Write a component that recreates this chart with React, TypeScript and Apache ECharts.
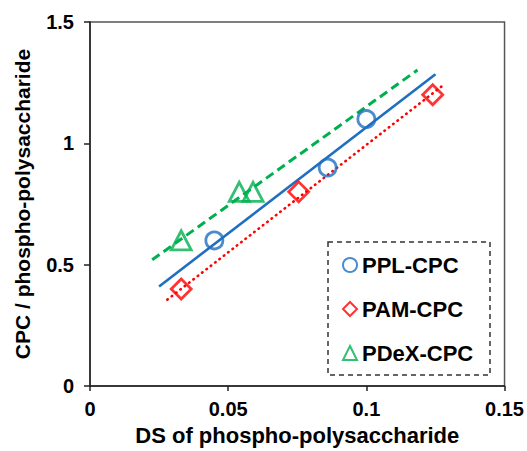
import React, { useEffect, useRef } from "react";
import * as echarts from "echarts";

const seriesNames = ["PPL-CPC", "PAM-CPC", "PDeX-CPC"];
const colors = ["#1F6EC0", "#FF0000", "#00B050"];
const symbols = ["circle", "diamond", "triangle"];

const pplPoints = [
  [0.045, 0.6],
  [0.086, 0.9],
  [0.1, 1.1],
];
const pamPoints = [
  [0.033, 0.4],
  [0.0755, 0.8],
  [0.124, 1.2],
];
const pdexPoints = [
  [0.033, 0.6],
  [0.054, 0.8],
  [0.059, 0.8],
];

const pplTrend = [
  [0.025, 0.41],
  [0.125, 1.285],
];
const pamTrend = [
  [0.028, 0.356],
  [0.1284, 1.245],
];
const pdexTrend = [
  [0.0225, 0.52],
  [0.1185, 1.302],
];

const xTicks = { min: 0, max: 0.15, interval: 0.05 };
const yTicks = { min: 0, max: 1.5, interval: 0.5 };

const FONT = "'Liberation Sans', Arial, sans-serif";

export default function App() {
  const ref = useRef<HTMLDivElement>(null);

  useEffect(() => {
    document.body.style.margin = "0";
    if (!ref.current) return;
    const chart = echarts.init(ref.current, null, { renderer: "svg" });

    const points = [pplPoints, pamPoints, pdexPoints];
    const trends = [pplTrend, pamTrend, pdexTrend];
    const lineDash: any[] = ["solid", [0.5, 5], [9, 5]];
    const symbolSizes: any[] = [17, 20, [20, 19]];

    const lineSeries = trends.map((t, i) => ({
      type: "line",
      name: seriesNames[i] + " trend",
      data: t,
      showSymbol: false,
      symbol: "none",
      silent: true,
      z: 2,
      lineStyle: {
        color: colors[i],
        width: i === 2 ? 3 : 2.6,
        type: lineDash[i],
        cap: i === 1 ? "round" : "butt",
      },
    }));

    const scatterSeries = points.map((p, i) => ({
      type: "scatter",
      name: seriesNames[i],
      data: p,
      symbol: symbols[i],
      symbolSize: symbolSizes[i],
      z: 3,
      itemStyle: {
        color: "rgba(255,255,255,0)",
        borderColor: colors[i],
        borderWidth: 2.8,
      },
    }));

    chart.setOption({
      animation: false,
      backgroundColor: "#fff",
      grid: {
        left: 90,
        right: 21,
        top: 22,
        bottom: 62,
        show: true,
        borderColor: "#555",
        borderWidth: 1.5,
        backgroundColor: "transparent",
      },
      xAxis: {
        type: "value",
        min: xTicks.min,
        max: xTicks.max,
        interval: xTicks.interval,
        name: "DS of phospho-polysaccharide",
        nameLocation: "middle",
        nameGap: 38,
        nameTextStyle: {
          fontFamily: FONT,
          fontWeight: "bold",
          fontSize: 22,
          color: "#000",
        },
        axisLine: { lineStyle: { color: "#222", width: 1.5 } },
        axisTick: {
          show: true,
          inside: false,
          length: 5,
          lineStyle: { color: "#222", width: 1.5 },
        },
        splitLine: { show: false },
        axisLabel: {
          fontFamily: FONT,
          fontWeight: "bold",
          fontSize: 20,
          color: "#000",
          margin: 13,
        },
      },
      yAxis: {
        type: "value",
        min: yTicks.min,
        max: yTicks.max,
        interval: yTicks.interval,
        name: "CPC / phospho-polysaccharide",
        nameLocation: "middle",
        nameGap: 57,
        nameTextStyle: {
          fontFamily: FONT,
          fontWeight: "bold",
          fontSize: 21,
          color: "#000",
        },
        axisLine: { show: true, lineStyle: { color: "#222", width: 1.5 } },
        axisTick: {
          show: true,
          inside: false,
          length: 6,
          lineStyle: { color: "#222", width: 1.5 },
        },
        splitLine: { show: false },
        axisLabel: {
          fontFamily: FONT,
          fontWeight: "bold",
          fontSize: 20,
          color: "#000",
          margin: 16,
        },
      },
      legend: {
        data: seriesNames,
        orient: "vertical",
        left: 342,
        top: 254,
        itemWidth: 14,
        itemHeight: 14,
        itemGap: 22,
        padding: 0,
        textStyle: {
          fontFamily: FONT,
          fontWeight: "bold",
          fontSize: 22,
          color: "#000",
          padding: [0, 0, 0, 0],
        },
      },
      graphic: [
        {
          type: "rect",
          shape: { x: 328, y: 242, width: 162, height: 133 },
          style: {
            fill: "none",
            stroke: "#333",
            lineWidth: 1.5,
            lineDash: [5, 4],
          },
          z: 10,
        },
      ],
      series: [...lineSeries, ...scatterSeries],
    });

    return () => chart.dispose();
  }, []);

  return <div ref={ref} style={{ width: 527, height: 451 }} />;
}
